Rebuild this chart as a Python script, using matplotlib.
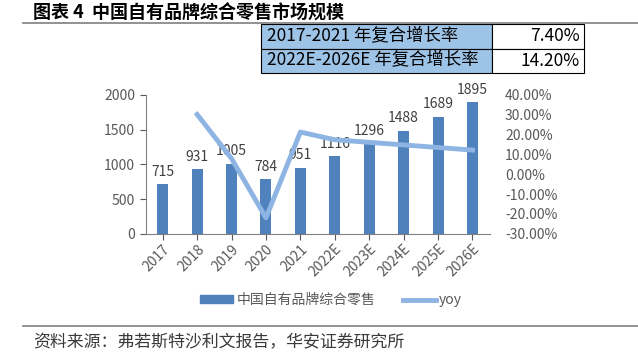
import matplotlib
matplotlib.use('Agg')
import matplotlib.pyplot as plt
from matplotlib.patches import Rectangle
from matplotlib.lines import Line2D
import numpy as np

plt.rcParams['font.family'] = ['Noto Sans CJK SC', 'DejaVu Sans']

years = ['2017', '2018', '2019', '2020', '2021', '2022E', '2023E', '2024E', '2025E', '2026E']
market = [715, 931, 1005, 784, 951, 1116, 1296, 1488, 1689, 1895]
yoy = [np.nan, 30.2, 7.9, -22.0, 21.3, 17.4, 16.1, 14.8, 13.5, 12.2]

cagr_labels = ['2017-2021 年复合增长率', '2022E-2026E 年复合增长率']
cagr_values = ['7.40%', '14.20%']

bar_color = '#4F81BD'
line_color = '#8EB4E3'
gray = '#595959'

W, H = 638, 364
fig = plt.figure(figsize=(W / 100, H / 100), dpi=100)


def fx(px):
    return px / W


def fy(py):
    return 1 - py / H


# title and rule
fig.text(fx(33), fy(13), '图表 4  中国自有品牌综合零售市场规模', fontsize=13, fontweight='bold',
         va='center', ha='left', color='#000000')
fig.add_artist(Line2D([fx(23), 1], [fy(23), fy(23)], color='#7f7f7f', lw=1.2))

# CAGR table
x0, x1, x2 = 261, 492, 584
rows = [(24, 48.5), (48.5, 72.5)]
for (ya, yb), lab, val in zip(rows, cagr_labels, cagr_values):
    fig.add_artist(Rectangle((fx(x0), fy(yb)), fx(x1 - x0), (yb - ya) / H,
                             facecolor='#9DC3E6', edgecolor='black', lw=0.8))
    fig.add_artist(Rectangle((fx(x1), fy(yb)), fx(x2 - x1), (yb - ya) / H,
                             facecolor='white', edgecolor='black', lw=0.8))
    fig.text(fx(x0 + 6), fy((ya + yb) / 2), lab, fontsize=12.5, va='center', ha='left')
    fig.text(fx(x2 - 4), fy((ya + yb) / 2), val, fontsize=12.5, va='center', ha='right')

# main chart
ax = fig.add_axes([fx(145.5), fy(233.7), fx(489.7 - 145.5), (233.7 - 95) / H])
x = np.arange(len(years))
ax.bar(x, market, width=0.32, color=bar_color, zorder=2)
for xi, v in zip(x, market):
    ax.text(xi, v + 80, str(v), ha='center', va='bottom', fontsize=10, color='#404040')
ax.set_xlim(-0.5, len(years) - 0.5)
ax.set_ylim(0, 2000)
ax.set_yticks([0, 500, 1000, 1500, 2000])
ax.set_xticks(x)
ax.set_xticklabels(years, rotation=45, ha='right', rotation_mode='anchor')
ax.tick_params(axis='both', colors=gray, labelsize=10, length=4, direction='out')
ax.tick_params(axis='x', pad=2)
for s in ['top', 'right']:
    ax.spines[s].set_visible(False)
ax.spines['left'].set_color('#808080')
ax.spines['bottom'].set_color('#808080')

ax2 = ax.twinx()
ax2.plot(x, yoy, color=line_color, lw=3.5, zorder=3)
ax2.set_ylim(-30, 40)
ax2.set_yticks(np.arange(-30, 41, 10))
ax2.set_yticklabels(['%.2f%%' % t for t in np.arange(-30, 41, 10)])
ax2.tick_params(axis='y', colors=gray, labelsize=10, length=0, pad=11)
for s in ax2.spines.values():
    s.set_visible(False)

# legend
handles = [Rectangle((0, 0), 1, 1, color=bar_color), Line2D([0], [0], color=line_color, lw=3.5)]
leg = fig.legend(handles, ['中国自有品牌综合零售', 'yoy'], loc='center', bbox_to_anchor=(fx(331), fy(300)),
                 ncol=2, frameon=False, fontsize=10, handlelength=2.4, handleheight=0.5,
                 columnspacing=2.0, handletextpad=0.2)
for t in leg.get_texts():
    t.set_color(gray)

# bottom rule and source
fig.add_artist(Line2D([fx(23), 1], [fy(326), fy(326)], color='#7f7f7f', lw=1.2))
fig.text(fx(33), fy(342), '资料来源：弗若斯特沙利文报告，华安证券研究所', fontsize=12.2, va='center', ha='left',
         color='#3a3a3a')

fig.savefig('out.png', dpi=100)
